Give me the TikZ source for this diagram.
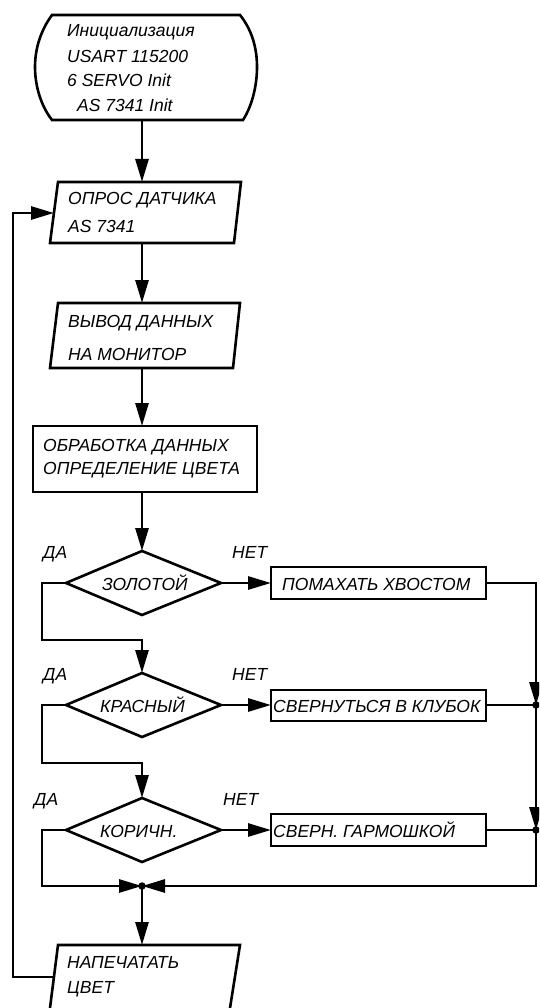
\documentclass[tikz,border=0pt]{standalone}
\usepackage{fontspec}
\setmainfont{Liberation Sans}
\usetikzlibrary{arrows.meta,calc}
\begin{document}
\begin{tikzpicture}[x=1pt,y=-1pt,
  lbl/.style={font=\fontsize{17.5}{20}\selectfont\itshape, anchor=base west, inner sep=0pt},
  shp/.style={line width=2.6pt},
  thinbox/.style={line width=1.8pt},
  conn/.style={line width=2.8pt},
  arr/.style={conn, -{Triangle[length=23pt,width=13pt]}},
  jdot/.style={circle, fill, inner sep=0pt, minimum size=7.5pt}
]
\useasboundingbox (0,0) rectangle (539,1008);
\fill[white] (0,0) rectangle (539,1008);
\clip (0,0) rectangle (539,1008);

% ---- terminator
\draw[shp] (52,15) -- (240,15) .. controls (252,30) and (257,48) .. (257,67)
  .. controls (257,86) and (252,106) .. (243,120) -- (52,120)
  .. controls (41,106) and (35,86) .. (35,67) .. controls (35,48) and (41,30) .. cycle;
\coordinate (startS) at (142,120);
\node[lbl] (t1) at (67,37) {Инициализация};
\node[lbl] (t2) at (67,63) {USART 115200};
\node[lbl] (t3) at (67,87) {6 SERVO Init};
\node[lbl] (t4) at (77,112) {AS 7341 Init};

% ---- parallelogram 1
\draw[shp] (58,182) -- (241,182) -- (234,243) -- (50,243) -- cycle;
\coordinate (p1N) at (142,182);
\coordinate (p1S) at (142,243);
\coordinate (p1W) at (54,213);
\node[lbl] (p1a) at (68,205) {ОПРОС ДАТЧИКА};
\node[lbl] (p1b) at (68,233) {AS 7341};

% ---- parallelogram 2
\draw[shp] (58,303) -- (240,303) -- (233,368) -- (50,368) -- cycle;
\coordinate (p2N) at (142,303);
\coordinate (p2S) at (142,368);
\node[lbl] (p2a) at (68,327) {ВЫВОД ДАННЫХ};
\node[lbl] (p2b) at (68,360) {НА МОНИТОР};

% ---- rectangle 3
\draw[shp] (33,426) rectangle (257,492);
\coordinate (r3N) at (142,426);
\coordinate (r3S) at (142,492);
\node[lbl] (r3a) at (43,451) {ОБРАБОТКА ДАННЫХ};
\node[lbl] (r3b) at (43,474) {ОПРЕДЕЛЕНИЕ ЦВЕТА};

% ---- diamonds
\draw[shp] (142,551) -- (221,583) -- (142,615) -- (66,583) -- cycle;
\coordinate (d1N) at (142,551); \coordinate (d1E) at (221,583); \coordinate (d1W) at (66,583);
\node[lbl] (d1t) at (102,590) {ЗОЛОТОЙ};

\draw[shp] (142,673) -- (221,705) -- (142,737) -- (66,705) -- cycle;
\coordinate (d2N) at (142,673); \coordinate (d2E) at (221,705); \coordinate (d2W) at (66,705);
\node[lbl] (d2t) at (100,712) {КРАСНЫЙ};

\draw[shp] (142,798) -- (221,830) -- (142,862) -- (66,830) -- cycle;
\coordinate (d3N) at (142,798); \coordinate (d3E) at (221,830); \coordinate (d3W) at (66,830);
\node[lbl] (d3t) at (100,837) {КОРИЧН.};

% labels ДА / НЕТ
\node[lbl] (da1) at (43,558) {ДА};
\node[lbl] (net1) at (232,558) {НЕТ};
\node[lbl] (da2) at (43,680) {ДА};
\node[lbl] (net2) at (232,680) {НЕТ};
\node[lbl] (da3) at (34,805) {ДА};
\node[lbl] (net3) at (223,805) {НЕТ};

% ---- action boxes
\draw[thinbox] (271,567) rectangle (486,599);
\coordinate (a1W) at (271,583); \coordinate (a1E) at (486,583);
\node[lbl] (a1t) at (282,590) {ПОМАХАТЬ ХВОСТОМ};

\draw[thinbox] (271,690) rectangle (486,721);
\coordinate (a2W) at (271,705); \coordinate (a2E) at (486,705);
\node[lbl] (a2t) at (273,712) {СВЕРНУТЬСЯ В КЛУБОК};

\draw[thinbox] (271,814) rectangle (486,846);
\coordinate (a3W) at (271,830); \coordinate (a3E) at (486,830);
\node[lbl] (a3t) at (273,837) {СВЕРН. ГАРМОШКОЙ};

% ---- parallelogram 4 (cut by the page bottom)
\draw[shp] (58,945) -- (240,945) -- (226.5,1030) -- (47.2,1030) -- cycle;
\coordinate (p4N) at (142,945);
\coordinate (p4W) at (54,977);
\node[lbl] (p4a) at (67,968) {НАПЕЧАТАТЬ};
\node[lbl] (p4b) at (67,993) {ЦВЕТ};

% ---- junction points
\coordinate (j1) at (536,705);
\coordinate (j2) at (536,830);
\coordinate (j3) at (142,886);
\coordinate (y1b) at (42,640);
\coordinate (y2b) at (42,763);
\coordinate (y3b) at (42,886);
\coordinate (loopT) at (13,213);

% ---- connectors
\draw[arr] (startS) -- (p1N);
\draw[arr] (p1S) -- (p2N);
\draw[arr] (p2S) -- (r3N);
\draw[arr] (r3S) -- (d1N);
\draw[arr] (d1E) -- (a1W);
\draw[arr] (d2E) -- (a2W);
\draw[arr] (d3E) -- (a3W);
\draw[arr] (d1W) -| (y1b) -| (d2N);
\draw[arr] (d2W) -| (y2b) -| (d3N);
\draw[arr] (d3W) -| (y3b) -- (j3);
\draw[arr] (a1E) -| (j1);
\draw[conn] (a2E) -- (j1);
\draw[arr] (j1) -- (j2);
\draw[conn] (a3E) -- (j2);
\draw[arr] (j2) |- (j3);
\draw[arr] (j3) -- (p4N);
\draw[arr] (p4W) -| (loopT) -- (p1W);

\node[jdot] (dot1) at (j1) {};
\node[jdot] (dot2) at (j2) {};
\node[jdot] (dot3) at (j3) {};
\end{tikzpicture}
\end{document}
